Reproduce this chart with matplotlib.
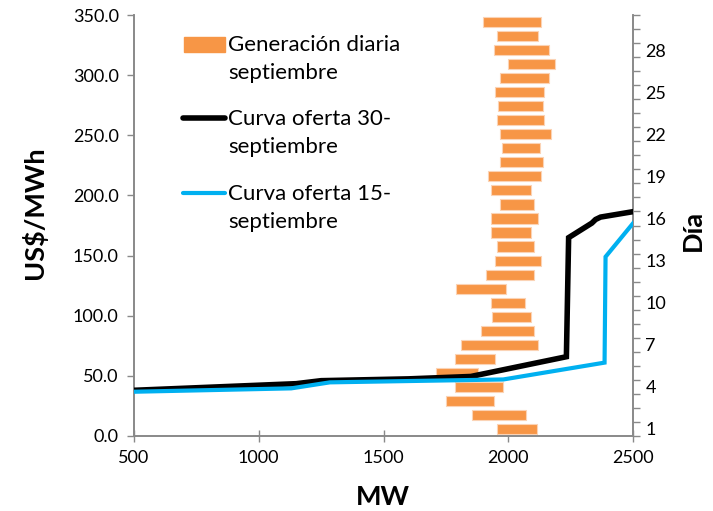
import matplotlib
matplotlib.use("Agg")
import matplotlib.pyplot as plt
from matplotlib.lines import Line2D
from matplotlib.patches import Rectangle
import numpy as np

plt.rcParams['font.family'] = ['Lato', 'DejaVu Sans']

# Daily generation range (MW), day 1..30
days = list(range(1, 31))
gen_min = [1954, 1855, 1749, 1786, 1711, 1786, 1810, 1891, 1935, 1929,
           1792, 1910, 1948, 1954, 1929, 1929, 1967, 1929, 1917, 1967,
           1973, 1967, 1954, 1960, 1948, 1967, 1998, 1941, 1954, 1899]
gen_max = [2116, 2071, 1941, 1979, 1879, 1948, 2121, 2102, 2090, 2066,
           1991, 2102, 2133, 2102, 2090, 2121, 2102, 2090, 2133, 2140,
           2127, 2171, 2145, 2140, 2145, 2164, 2188, 2164, 2121, 2132]

# Supply curve 30-sept (MW, US$/MWh)
oferta30_mw = [500, 1150, 1250, 1600, 1850, 2233, 2242, 2335, 2350, 2370, 2500]
oferta30_p = [38.0, 43.5, 46.0, 47.5, 49.5, 65.9, 164.9, 177.0, 180.0, 182.0, 186.5]

# Supply curve 15-sept (MW, US$/MWh)
oferta15_mw = [500, 1130, 1285, 1980, 2386, 2390, 2500]
oferta15_p = [36.8, 39.6, 44.6, 47.0, 61.0, 149.0, 176.8]

price_ticks = [0, 50, 100, 150, 200, 250, 300, 350]
mw_ticks = [500, 1000, 1500, 2000, 2500]
day_ticks = [1, 4, 7, 10, 13, 16, 19, 22, 25, 28]

ORANGE = '#F79646'
BLUE = '#00B0F0'
GRAY = '#898989'

fig = plt.figure(figsize=(7.13, 5.11), dpi=100)
ax_day = fig.add_axes([134/713, 1-436/511, (633-134)/713, (436-15)/511])
ax = ax_day.twinx()

# bars (day axis, right side)
ax_day.barh(days, np.array(gen_max) - np.array(gen_min), left=gen_min, height=0.72,
            color=ORANGE, edgecolor='#FBD3B5', linewidth=0.8, zorder=2)
ax_day.set_ylim(0.5, 30.5)
ax_day.set_xlim(500, 2500)
ax_day.yaxis.tick_right()
ax_day.yaxis.set_label_position('right')
ax_day.set_yticks(day_ticks)
ax_day.set_yticks(np.arange(0.5, 31, 1), minor=True)
ax_day.tick_params(axis='y', which='major', length=0, labelsize=13, pad=9)
ax_day.tick_params(axis='y', which='minor', length=5, width=1, color=GRAY, direction='out')
ax_day.set_ylabel('Día', fontsize=19.5, fontweight='bold', rotation=90)
ax_day.yaxis.set_label_coords(1.120, 0.489)
ax_day.yaxis.label.set_va('center')
ax_day.yaxis.label.set_ha('center')

ax_day.set_xticks(mw_ticks)
ax_day.tick_params(axis='x', which='major', length=8, width=1, color=GRAY,
                   direction='inout', labelsize=13, pad=6)
ax_day.set_xlabel('MW', fontsize=19.5, fontweight='bold')
ax_day.xaxis.set_label_coords(0.499, -0.145)
ax_day.xaxis.label.set_va('center')

# lines (price axis, left side)
ax.plot(oferta30_mw, oferta30_p, color='black', lw=4.0, solid_joinstyle='miter', zorder=3)
ax.plot(oferta15_mw, oferta15_p, color=BLUE, lw=3.0, solid_joinstyle='miter', zorder=3)
ax.set_ylim(0, 350)
ax.yaxis.tick_left()
ax.yaxis.set_label_position('left')
ax.set_yticks(price_ticks)
ax.set_yticklabels([f'{v:.1f}' for v in price_ticks])
ax.tick_params(axis='y', length=5, width=1, color=GRAY, direction='out', labelsize=13, pad=6)
ax.set_ylabel('US$/MWh', fontsize=19.5, fontweight='bold')
ax.yaxis.set_label_coords(-0.200, 0.53)
ax.yaxis.label.set_va('center')
ax.yaxis.label.set_ha('center')

for a in (ax, ax_day):
    a.spines['top'].set_visible(False)
    for s in ('left', 'right', 'bottom'):
        a.spines[s].set_color(GRAY)
        a.spines[s].set_linewidth(1.2)

# legend (drawn manually to match handle alignment)
W, H = 713, 511
def fx(x): return x / W
def fy(y): return 1 - y / H
fig.patches.append(Rectangle((fx(184), fy(52)), fx(225) - fx(184), fy(37) - fy(52),
                             transform=fig.transFigure, color=ORANGE, zorder=5))
fig.lines.append(Line2D([fx(183), fx(225)], [fy(118), fy(118)], transform=fig.transFigure,
                        color='black', lw=4.0, solid_capstyle='round', zorder=5))
fig.lines.append(Line2D([fx(183), fx(225)], [fy(193), fy(193)], transform=fig.transFigure,
                        color=BLUE, lw=3.0, solid_capstyle='round', zorder=5))
leg_texts = [("Generación diaria", 45), ("septiembre", 73),
             ("Curva oferta 30-", 119), ("septiembre", 147),
             ("Curva oferta 15-", 194), ("septiembre", 222)]
for t, yy in leg_texts:
    fig.text(fx(228), fy(yy), t, fontsize=16, va='center', ha='left')

fig.savefig('out.png', dpi=100)
